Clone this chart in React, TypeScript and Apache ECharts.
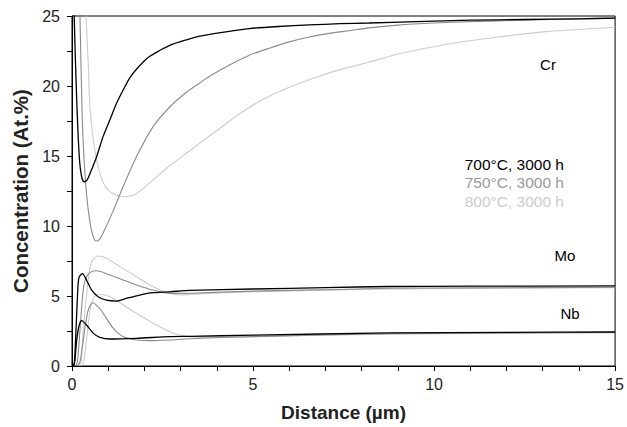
import React, { useEffect, useRef } from "react";
import * as echarts from "echarts";

const xTicks = [0, 5, 10, 15];
const yTicks = [0, 5, 10, 15, 20, 25];

const cr700: number[][] = [[0.02, 32], [0.06, 25], [0.13, 19], [0.2, 15], [0.26, 13.6], [0.33, 13.16], [0.42, 13.3], [0.5, 13.76], [0.68, 14.95], [0.86, 16.4], [1.05, 17.6], [1.23, 18.76], [1.41, 19.7], [1.6, 20.6], [1.78, 21.2], [2.06, 21.95], [2.33, 22.4], [2.7, 22.9], [3.16, 23.3], [3.5, 23.55], [4.2, 23.85], [4.9, 24.1], [5.7, 24.25], [6.55, 24.36], [7.4, 24.45], [8.2, 24.5], [9.5, 24.6], [11, 24.7], [12.5, 24.75], [14, 24.8], [15, 24.85]];
const cr750: number[][] = [[0.17, 32], [0.22, 25], [0.27, 19], [0.31, 15.9], [0.4, 12.3], [0.5, 10.2], [0.58, 9.3], [0.66, 8.93], [0.76, 9.05], [0.86, 9.5], [1.14, 11.1], [1.41, 12.8], [1.78, 14.95], [2.24, 17.1], [2.7, 18.5], [3.16, 19.55], [3.52, 20.2], [3.8, 20.7], [4.35, 21.5], [4.9, 22.2], [5.45, 22.7], [6.0, 23.15], [6.55, 23.5], [7.1, 23.76], [7.65, 23.95], [8.2, 24.15], [9, 24.35], [10, 24.5], [11, 24.6], [12.5, 24.7], [14, 24.8], [15, 24.85]];
const cr800: number[][] = [[0.34, 32], [0.39, 25], [0.45, 21.5], [0.5, 18.3], [0.63, 15.4], [0.77, 13.76], [0.95, 12.7], [1.23, 12.2], [1.5, 12.1], [1.78, 12.3], [2.24, 13.3], [2.7, 14.3], [3.16, 15.2], [3.52, 15.9], [4.07, 16.95], [4.62, 18.0], [5.17, 18.9], [5.72, 19.6], [6.28, 20.2], [6.83, 20.7], [7.38, 21.15], [8.2, 21.7], [9.03, 22.3], [10.4, 23.0], [11.78, 23.5], [13.16, 23.9], [15, 24.2]];

const mo700: number[][] = [[0.02, 0], [0.06, 0.1], [0.08, 0.8], [0.13, 3.76], [0.17, 5.9], [0.2, 6.38], [0.29, 6.6], [0.4, 6.14], [0.54, 5.43], [0.72, 4.95], [0.95, 4.7], [1.23, 4.64], [1.5, 4.83], [1.87, 5.07], [2.24, 5.24], [2.7, 5.3], [3.25, 5.4], [5, 5.5], [7, 5.6], [8.75, 5.68], [11, 5.7], [15, 5.72]];
const mo750: number[][] = [[0.1, 0], [0.15, 0.3], [0.22, 2.57], [0.31, 5.43], [0.4, 6.38], [0.54, 6.74], [0.68, 6.8], [1.05, 6.5], [1.41, 6.14], [1.78, 5.79], [2.24, 5.43], [2.7, 5.19], [3.25, 5.2], [5, 5.35], [7, 5.45], [8.75, 5.55], [11, 5.58], [15, 5.62]];
const mo800: number[][] = [[0.2, 0], [0.25, 0.3], [0.31, 2.57], [0.45, 6.14], [0.54, 7.45], [0.72, 7.86], [0.95, 7.69], [1.32, 7.1], [1.78, 6.38], [2.24, 5.66], [2.7, 5.19], [2.97, 5.07], [3.5, 5.15], [5, 5.3], [7, 5.42], [8.75, 5.5], [11, 5.55], [15, 5.6]];

const nb700: number[][] = [[0.04, 0], [0.08, 0.4], [0.13, 1.86], [0.2, 2.93], [0.27, 3.24], [0.4, 2.93], [0.59, 2.33], [0.77, 2.05], [1.05, 1.93], [1.78, 1.98], [2.7, 2.1], [3.25, 2.12], [5, 2.2], [8.75, 2.36], [12, 2.4], [15, 2.43]];
const nb750: number[][] = [[0.15, 0], [0.22, 0.3], [0.3, 1.6], [0.36, 2.8], [0.45, 4.0], [0.57, 4.52], [0.77, 4.1], [0.95, 3.4], [1.14, 2.69], [1.41, 2.1], [1.78, 1.86], [2.24, 1.81], [2.7, 1.86], [3.25, 1.95], [5, 2.1], [8.75, 2.3], [12, 2.36], [15, 2.4]];
const nb800: number[][] = [[0.25, 0], [0.32, 0.3], [0.4, 1.86], [0.5, 4.0], [0.59, 4.83], [0.72, 5.14], [1.05, 4.95], [1.41, 4.36], [1.78, 3.76], [2.24, 3.05], [2.7, 2.45], [2.97, 2.21], [3.52, 2.05], [5, 2.1], [8.75, 2.28], [12, 2.33], [15, 2.38]];

const legendLabels = ["700°C, 3000 h", "750°C, 3000 h", "800°C, 3000 h"];
const elementLabels = ["Cr", "Mo", "Nb"];

const COLORS = ["#000000", "#8a8a8a", "#cccccc"];
const TEXT_COLORS = ["#000000", "#999999", "#cccccc"];
const WIDTHS = [1.3, 1.1, 1.1];
const FONT = "'Liberation Sans', Arial, Helvetica, sans-serif";

export default function App() {
  const ref = useRef<HTMLDivElement>(null);
  useEffect(() => {
    document.body.style.margin = "0";
    if (!ref.current) return;
    const chart = echarts.init(ref.current, null, { renderer: "svg" });
    const groups = [
      [cr700, cr750, cr800],
      [mo700, mo750, mo800],
      [nb700, nb750, nb800],
    ];
    const series: any[] = [];
    for (let t = 2; t >= 0; t--) {
      groups.forEach((g, gi) => {
        series.push({
          type: "line",
          name: `${elementLabels[gi]}-${t}`,
          data: g[t],
          showSymbol: false,
          smooth: 0.25,
          clip: true,
          lineStyle: { color: COLORS[t], width: WIDTHS[t] },
          silent: true,
        });
      });
    }
    const graphic: any[] = [
      { type: "text", x: 548, y: 64, style: { text: elementLabels[0], font: `15px ${FONT}`, fill: "#000", align: "center", verticalAlign: "middle" } },
      { type: "text", x: 565, y: 255, style: { text: elementLabels[1], font: `15px ${FONT}`, fill: "#000", align: "center", verticalAlign: "middle" } },
      { type: "text", x: 570, y: 313, style: { text: elementLabels[2], font: `15px ${FONT}`, fill: "#000", align: "center", verticalAlign: "middle" } },
    ];
    legendLabels.forEach((l, i) => {
      graphic.push({ type: "text", x: 564, y: 164 + i * 18.7, style: { text: l, font: `15.5px ${FONT}`, fill: TEXT_COLORS[i], align: "right", verticalAlign: "middle" } });
    });
    chart.setOption({
      animation: false,
      backgroundColor: "#fff",
      grid: { left: 72, right: 10, top: 16, bottom: 61, show: true, borderColor: "#000", borderWidth: 1 },
      xAxis: {
        type: "value",
        min: xTicks[0],
        max: xTicks[xTicks.length - 1],
        interval: 5,
        name: "Distance (µm)",
        nameLocation: "middle",
        nameGap: 37,
        nameTextStyle: { fontFamily: FONT, fontWeight: "bold", fontSize: 19, color: "#222" },
        axisLine: { lineStyle: { color: "#000", width: 1 } },
        axisTick: { show: true, length: 5, lineStyle: { color: "#000" } },
        minorTick: { show: true, splitNumber: 5, length: 5, lineStyle: { color: "#000" } },
        axisLabel: { fontFamily: FONT, fontSize: 16, color: "#222", margin: 10 },
        splitLine: { show: false },
      },
      yAxis: {
        type: "value",
        min: yTicks[0],
        max: yTicks[yTicks.length - 1],
        interval: 5,
        name: "Concentration (At.%)",
        nameLocation: "middle",
        nameGap: 38,
        nameTextStyle: { fontFamily: FONT, fontWeight: "bold", fontSize: 20.5, color: "#222" },
        axisLine: { show: true, lineStyle: { color: "#000", width: 1 } },
        axisTick: { show: true, length: 5, lineStyle: { color: "#000" } },
        minorTick: { show: true, splitNumber: 2, length: 5, lineStyle: { color: "#000" } },
        axisLabel: { fontFamily: FONT, fontSize: 16, color: "#222", margin: 12 },
        splitLine: { show: false },
      },
      series,
      graphic,
    });
    return () => chart.dispose();
  }, []);
  return <div ref={ref} style={{ width: 627, height: 427 }} />;
}
